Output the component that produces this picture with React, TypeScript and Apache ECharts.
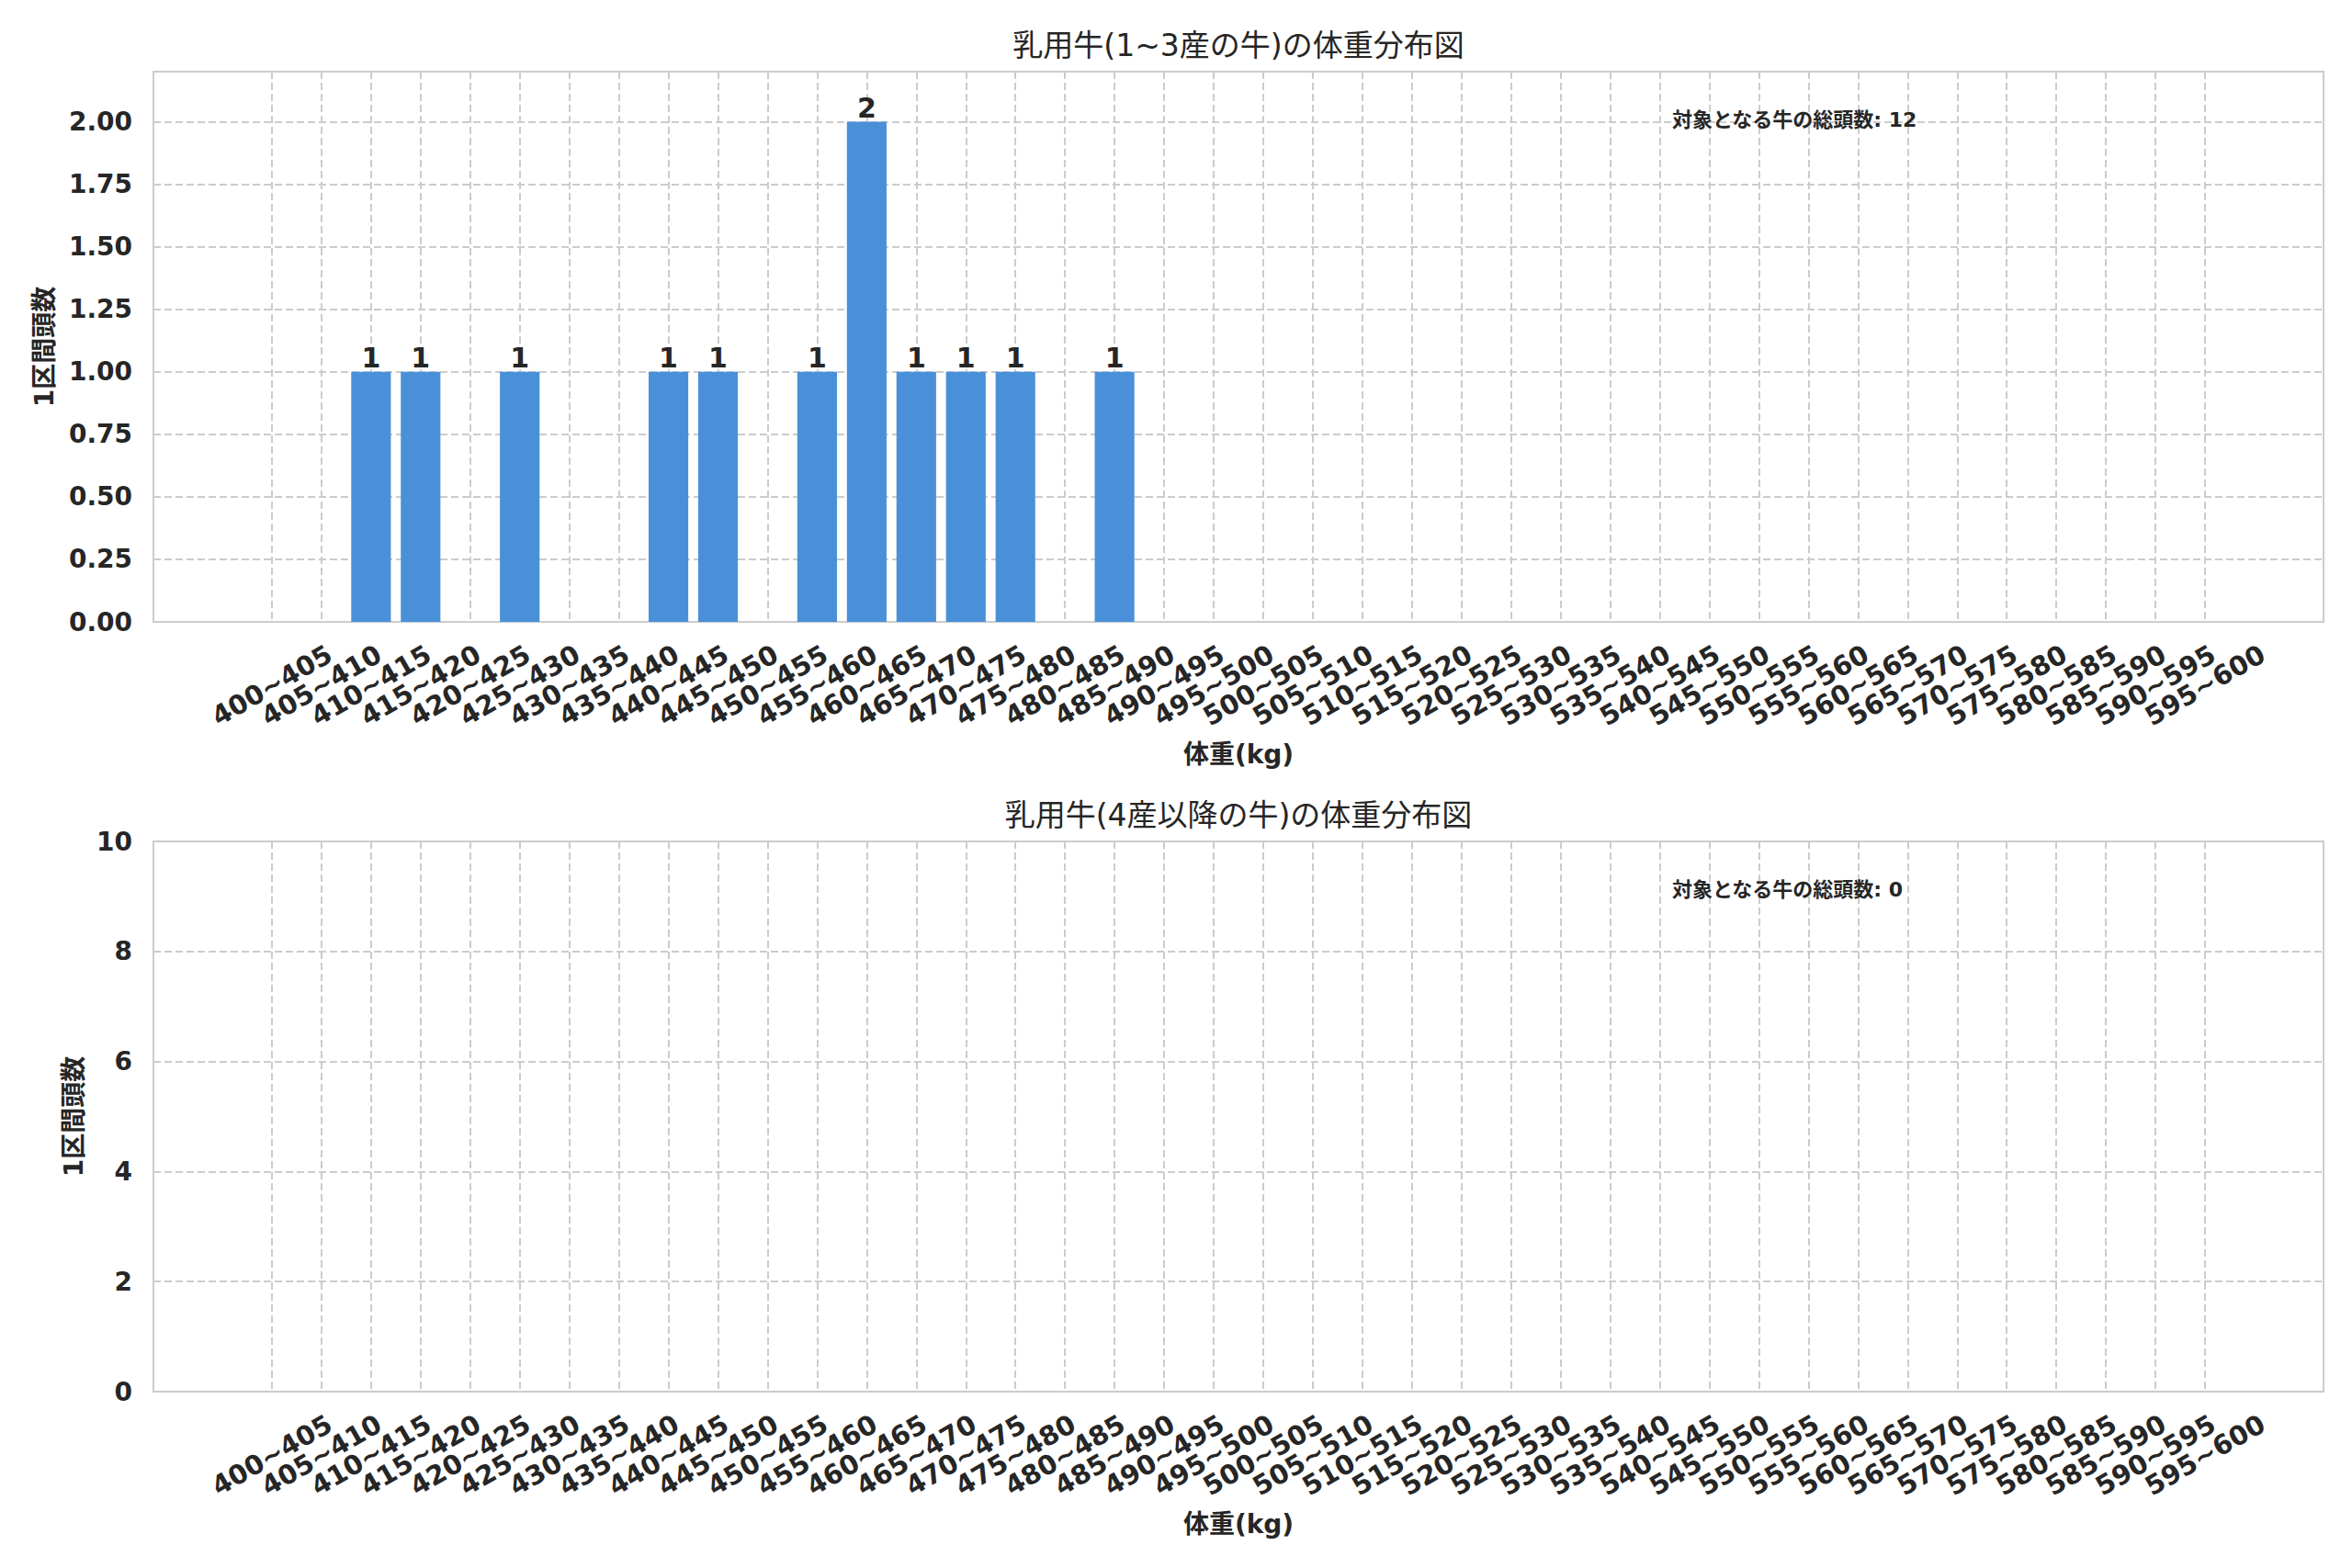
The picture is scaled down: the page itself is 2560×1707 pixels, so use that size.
import React, { useEffect, useRef } from "react";
import * as echarts from "echarts";

// ---- data ----
const categories = [
  "400~405", "405~410", "410~415", "415~420", "420~425", "425~430", "430~435", "435~440",
  "440~445", "445~450", "450~455", "455~460", "460~465", "465~470", "470~475", "475~480",
  "480~485", "485~490", "490~495", "495~500", "500~505", "505~510", "510~515", "515~520",
  "520~525", "525~530", "530~535", "535~540", "540~545", "545~550", "550~555", "555~560",
  "560~565", "565~570", "570~575", "575~580", "580~585", "585~590", "590~595", "595~600",
];
const countsParity1to3 = [
  0, 0, 1, 1, 0, 1, 0, 0, 1, 1, 0, 1, 2, 1, 1, 1, 0, 1, 0, 0,
  0, 0, 0, 0, 0, 0, 0, 0, 0, 0, 0, 0, 0, 0, 0, 0, 0, 0, 0, 0,
];
const countsParity4plus = [
  0, 0, 0, 0, 0, 0, 0, 0, 0, 0, 0, 0, 0, 0, 0, 0, 0, 0, 0, 0,
  0, 0, 0, 0, 0, 0, 0, 0, 0, 0, 0, 0, 0, 0, 0, 0, 0, 0, 0, 0,
];
const titleTop = "乳用牛(1~3産の牛)の体重分布図";
const titleBottom = "乳用牛(4産以降の牛)の体重分布図";
const xAxisName = "体重(kg)";
const yAxisName = "1区間頭数";
const totalLabel = "対象となる牛の総頭数";
const yMaxTop = 2.2;
const yIntervalTop = 0.25;
const yMaxBottom = 10;
const yIntervalBottom = 2;

const FONT = "'DejaVu Sans', 'Noto Sans CJK JP', sans-serif";
const TEXT = "#262626";
const GRIDC = "#cccccc";
const BAR = "#4a90d9";

const positions = categories.map((_, i) => i);
const evenPositions = positions.filter((i) => i % 2 === 0);
const oddPositions = positions.filter((i) => i % 2 === 1);

function sum(a: number[]) {
  return a.reduce((s, v) => s + v, 0);
}

// main axis: grid lines, even labels, name; secondary axis: odd labels only
function xAxisFor(gridIndex: number, main: boolean) {
  const labelValues = main ? evenPositions : oddPositions;
  return {
    type: "value",
    gridIndex,
    position: "bottom",
    offset: 0,
    min: -2.39,
    max: 41.39,
    axisLine: { show: false },
    axisTick: { show: false, customValues: main ? positions : labelValues },
    axisLabel: {
      customValues: labelValues,
      formatter: (v: number) => categories[Math.round(v)] ?? "",
      showMinLabel: true,
      showMaxLabel: true,
      hideOverlap: false,
      rotate: 30,
      align: "center",
      verticalAlign: "middle",
      margin: 69,
      fontFamily: FONT,
      fontWeight: "bold",
      fontSize: 29,
      color: TEXT,
    },
    splitLine: { show: main, lineStyle: { color: GRIDC, type: [8, 4], width: 2 } },
    name: main ? xAxisName : "",
    nameLocation: "middle",
    nameGap: 130,
    nameTextStyle: { fontFamily: FONT, fontWeight: "bold", fontSize: 28, color: TEXT },
  };
}

function yAxisFor(gridIndex: number, max: number, interval: number, fmt: (v: number) => string, nameGap: number) {
  return {
    type: "value",
    gridIndex,
    min: 0,
    max,
    interval,
    axisLine: { show: false },
    axisTick: { show: false },
    axisLabel: {
      formatter: (v: number) => (v > max - 1e-9 && v % interval > 1e-9 ? "" : fmt(v)),
      margin: 23,
      fontFamily: FONT,
      fontWeight: "bold",
      fontSize: 28,
      color: TEXT,
    },
    splitLine: { show: true, lineStyle: { color: GRIDC, type: [8, 4], width: 2 } },
    name: yAxisName,
    nameLocation: "middle",
    nameRotate: 90,
    nameGap,
    nameTextStyle: { fontFamily: FONT, fontWeight: "bold", fontSize: 28, color: TEXT },
  };
}

function barSeries(xIdx: number, yIdx: number, counts: number[]) {
  return {
    type: "bar",
    xAxisIndex: xIdx,
    yAxisIndex: yIdx,
    data: counts.map((v, i) => [positions[i], v]),
    barWidth: "80%",
    itemStyle: { color: BAR },
    label: {
      show: true,
      position: "top",
      distance: 0,
      formatter: (p: any) => (p.value[1] > 0 ? String(p.value[1]) : ""),
      fontFamily: FONT,
      fontWeight: "bold",
      fontSize: 30,
      color: TEXT,
    },
  };
}

function textEl(x: number, y: number, text: string, size: number, weight: string, align: string) {
  return {
    type: "text",
    x,
    y,
    z: 10,
    style: {
      text,
      fill: TEXT,
      fontFamily: FONT,
      fontSize: size,
      fontWeight: weight,
      align,
      verticalAlign: "middle",
      textAlign: align,
      textVerticalAlign: "middle",
    },
  };
}

export default function App() {
  const ref = useRef<HTMLDivElement>(null);
  useEffect(() => {
    document.body.style.margin = "0";
    if (!ref.current) return;
    const chart = echarts.init(ref.current, undefined, { renderer: "svg" });
    chart.setOption({
      animation: false,
      backgroundColor: "#ffffff",
      grid: [
        { left: 167, top: 78, width: 2362, height: 599, show: true, borderColor: GRIDC, borderWidth: 2, containLabel: false },
        { left: 167, top: 916, width: 2362, height: 599, show: true, borderColor: GRIDC, borderWidth: 2, containLabel: false },
      ],
      xAxis: [xAxisFor(0, true), xAxisFor(0, false), xAxisFor(1, true), xAxisFor(1, false)],
      yAxis: [
        yAxisFor(0, yMaxTop, yIntervalTop, (v) => v.toFixed(2), 105),
        yAxisFor(1, yMaxBottom, yIntervalBottom, (v) => String(v), 72),
      ],
      series: [barSeries(0, 0, countsParity1to3), barSeries(2, 1, countsParity4plus)],
      graphic: [
        textEl(1348, 49, titleTop, 33, "normal", "center"),
        textEl(1348, 887, titleBottom, 33, "normal", "center"),
        textEl(1820, 130, `${totalLabel}: ${sum(countsParity1to3)}`, 22, "bold", "left"),
        textEl(1820, 968, `${totalLabel}: ${sum(countsParity4plus)}`, 22, "bold", "left"),
      ],
    });
    return () => chart.dispose();
  }, []);
  return <div ref={ref} style={{ width: 2560, height: 1707 }} />;
}
